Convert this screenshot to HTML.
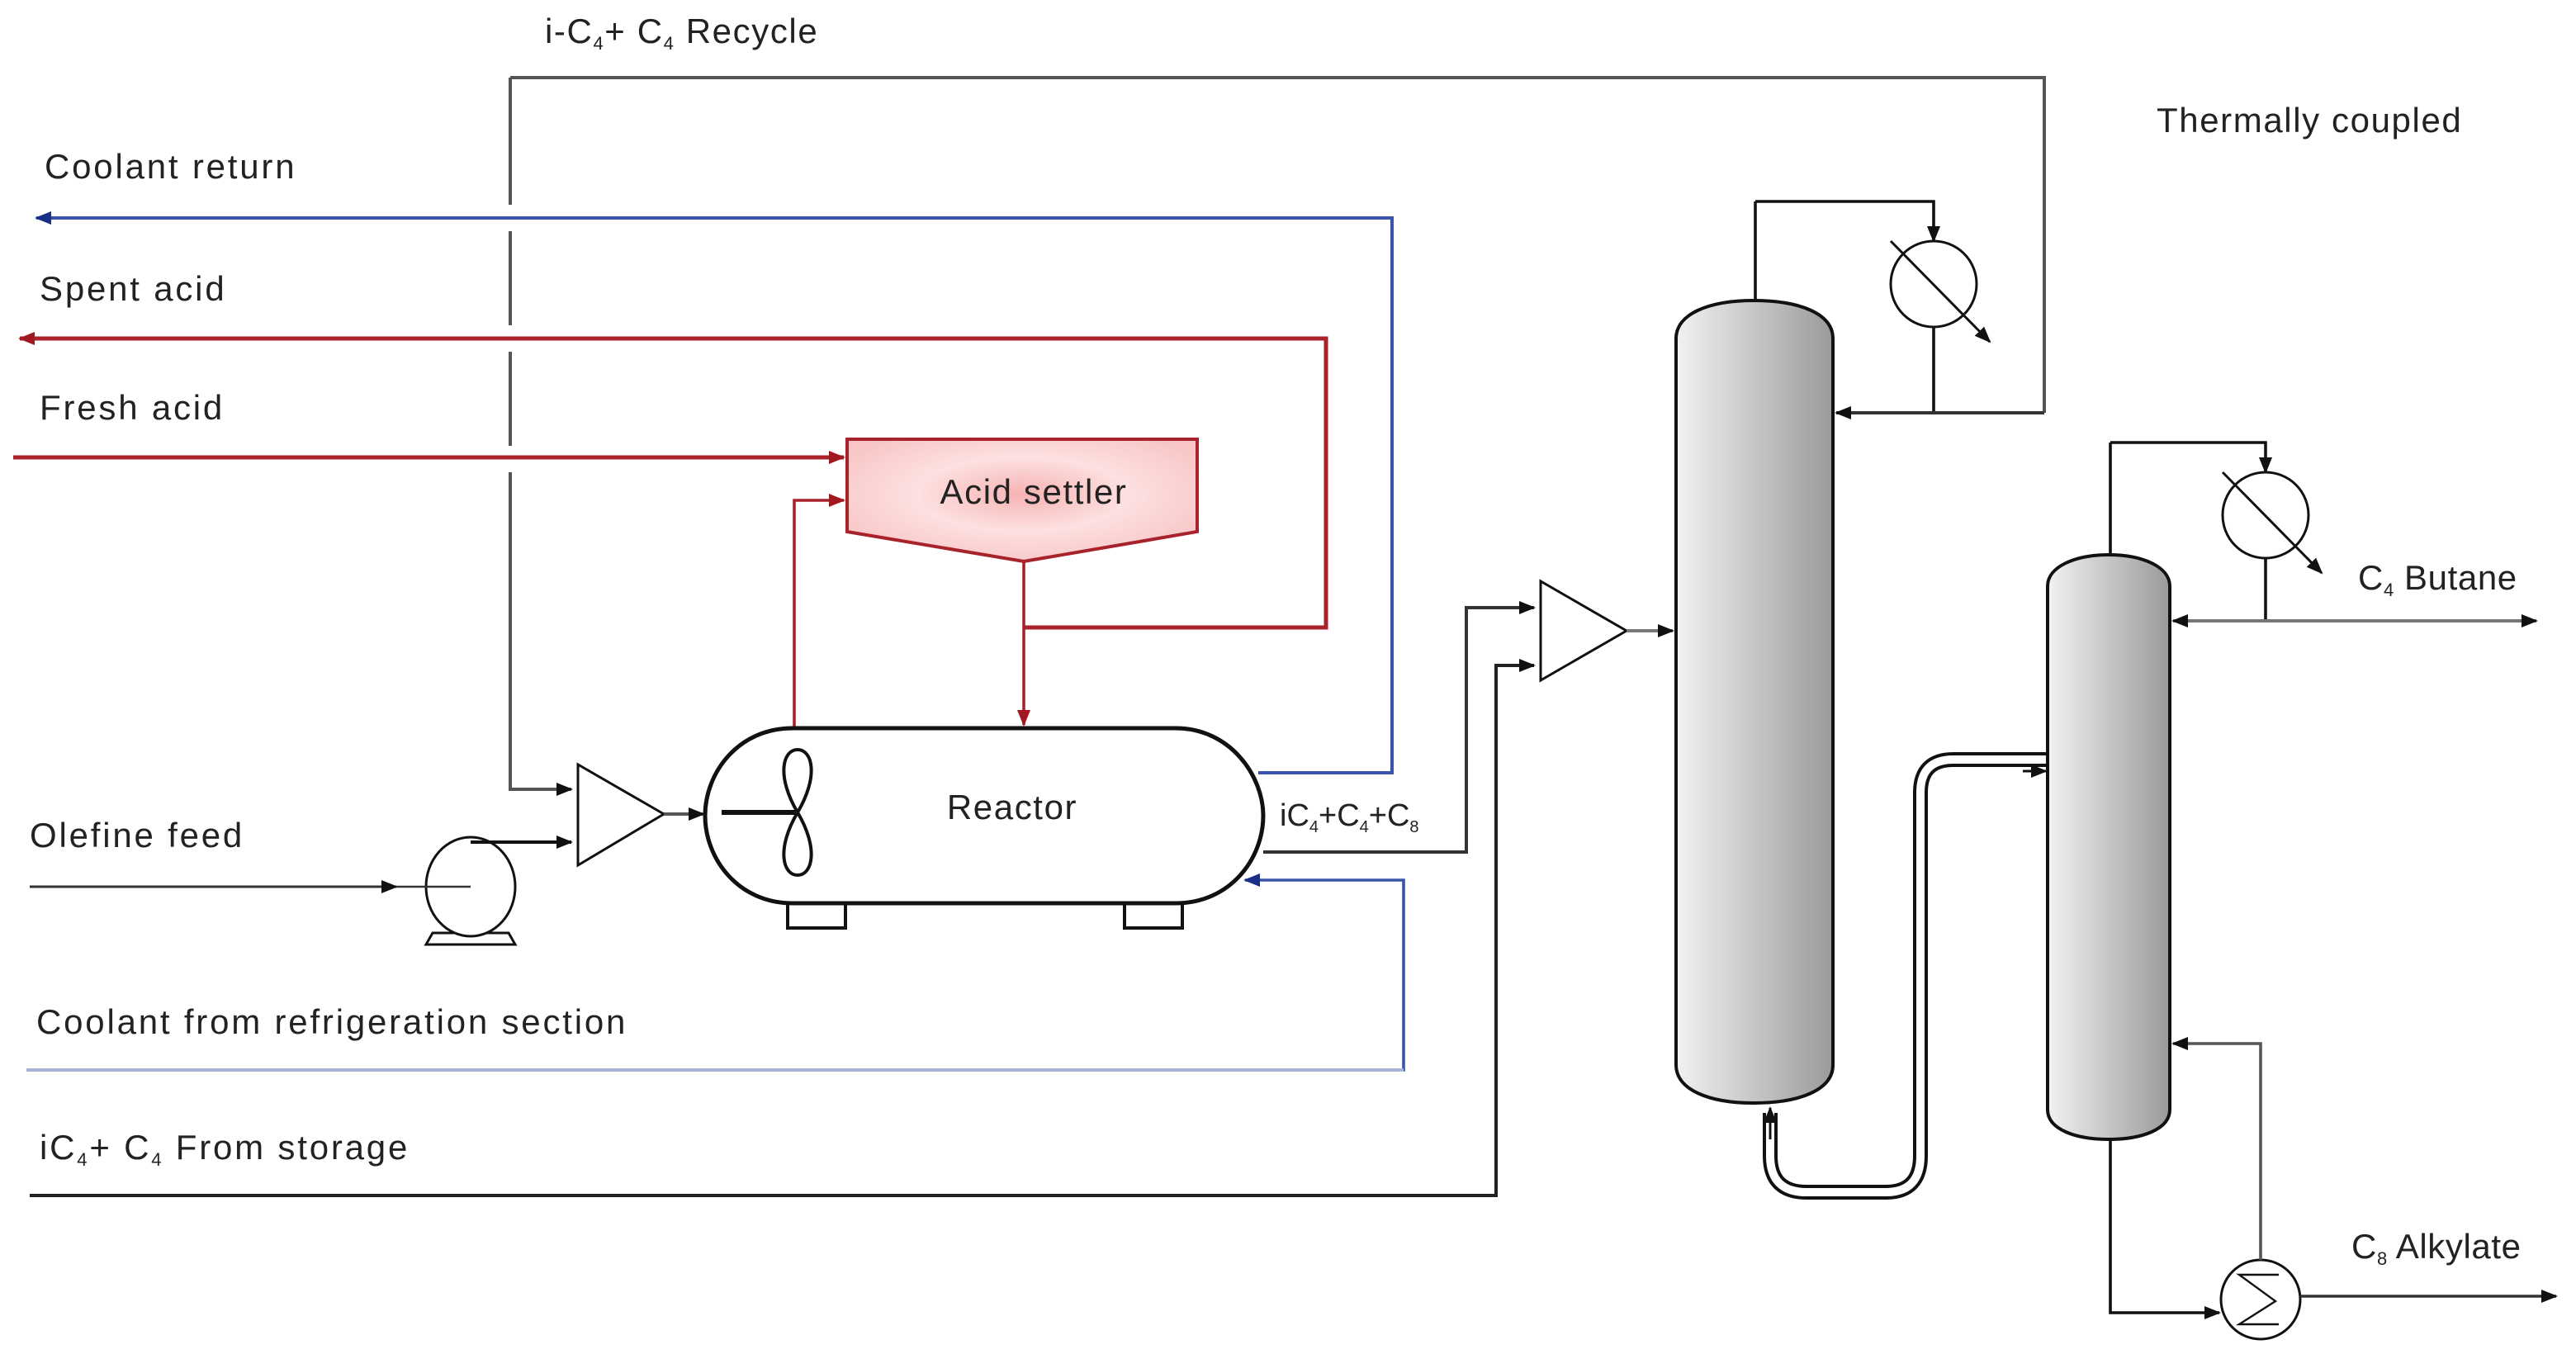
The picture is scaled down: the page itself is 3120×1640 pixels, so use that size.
<!DOCTYPE html>
<html><head><meta charset="utf-8"><style>
html,body{margin:0;padding:0;background:#fff;}
svg{display:block;}
text{font-family:"Liberation Sans",sans-serif;font-size:21px;letter-spacing:1.4px;fill:#222;}
</style></head><body>
<svg width="3120" height="1640" viewBox="0 0 1560 820" xmlns="http://www.w3.org/2000/svg">
<defs>
<linearGradient id="col" x1="0" x2="1" y1="0" y2="0"><stop offset="0" stop-color="#f2f2f2"/><stop offset="1" stop-color="#9a9a9a"/></linearGradient>
<radialGradient id="pink" cx="0.5" cy="0.45" r="0.6"><stop offset="0" stop-color="#f6b3b3"/><stop offset="0.5" stop-color="#fde0e0"/><stop offset="1" stop-color="#f8c6c6"/></radialGradient>
<marker id="ak" markerWidth="10" markerHeight="10" refX="9" refY="5" orient="auto" markerUnits="userSpaceOnUse"><path d="M0,1 L10,5 L0,9 z" fill="#111"/></marker>
<marker id="ar" markerWidth="10" markerHeight="10" refX="9" refY="5" orient="auto" markerUnits="userSpaceOnUse"><path d="M0,1 L10,5 L0,9 z" fill="#a01820"/></marker>
<marker id="ab" markerWidth="10" markerHeight="10" refX="9" refY="5" orient="auto" markerUnits="userSpaceOnUse"><path d="M0,1 L10,5 L0,9 z" fill="#1a2f8a"/></marker>
</defs>

<text x="330" y="26" style="letter-spacing:0.8px">i-C<tspan font-size="11" dy="4">4</tspan><tspan dy="-4">+ C</tspan><tspan font-size="11" dy="4">4</tspan><tspan dy="-4"> Recycle</tspan></text>
<text x="1306" y="80" style="letter-spacing:0.8px">Thermally coupled</text>
<text x="27" y="108">Coolant return</text>
<text x="24" y="182">Spent acid</text>
<text x="24" y="254">Fresh acid</text>
<text x="18" y="513">Olefine feed</text>
<text x="22" y="626">Coolant from refrigeration section</text>
<text x="24" y="702">iC<tspan font-size="11" dy="4">4</tspan><tspan dy="-4">+ C</tspan><tspan font-size="11" dy="4">4</tspan><tspan dy="-4"> From storage</tspan></text>
<text x="775" y="500" style="letter-spacing:0;font-size:19px">iC<tspan font-size="10" dy="4">4</tspan><tspan dy="-4">+C</tspan><tspan font-size="10" dy="4">4</tspan><tspan dy="-4">+C</tspan><tspan font-size="10" dy="4">8</tspan></text>
<text x="1428" y="357" style="letter-spacing:0.3px">C<tspan font-size="11" dy="4">4</tspan><tspan dy="-4"> Butane</tspan></text>
<text x="1424" y="762" style="letter-spacing:0.3px">C<tspan font-size="11" dy="4">8</tspan><tspan dy="-4"> Alkylate</tspan></text>

<g fill="none" stroke="#555" stroke-width="2">
<path d="M1238,250 V47 H309"/>
<path d="M309,47 V478 H346" marker-end="url(#ak)"/>
</g>
<g stroke="#fff" stroke-width="6">
<line x1="309" y1="124" x2="309" y2="140"/>
<line x1="309" y1="197" x2="309" y2="213"/>
<line x1="309" y1="270" x2="309" y2="286"/>
</g>

<path d="M762,468 H843 V132 H22" fill="none" stroke="#3a55a8" stroke-width="2" marker-end="url(#ab)"/>
<path d="M620,380 H803 V205 H12" fill="none" stroke="#a8222c" stroke-width="2.5" marker-end="url(#ar)"/>
<path d="M8,277 H511" fill="none" stroke="#a8222c" stroke-width="2.5" marker-end="url(#ar)"/>
<path d="M481,441 V303 H511" fill="none" stroke="#a8222c" stroke-width="1.8" marker-end="url(#ar)"/>
<path d="M513,266 H725 V322 L620,340 L513,322 Z" fill="url(#pink)" stroke="#a8222c" stroke-width="2"/>
<text x="626" y="305" text-anchor="middle" style="letter-spacing:0.8px">Acid settler</text>
<path d="M620,340 V439" fill="none" stroke="#a8222c" stroke-width="1.8" marker-end="url(#ar)"/>

<path d="M477,547 h35 v15 h-35 z M681,547 h35 v15 h-35 z" fill="#fff" stroke="#111" stroke-width="2"/>
<path d="M480,441 H712 C745,441 765,470 765,494 C765,520 745,547 712,547 H480 C447,547 427,520 427,494 C427,468 447,441 480,441 Z" fill="#fff" stroke="#111" stroke-width="2.5"/>
<text x="613" y="496" text-anchor="middle" style="letter-spacing:0.8px">Reactor</text>
<path d="M437,492 H483" stroke="#111" stroke-width="3"/>
<path d="M483,492 C470,470 474,454 483,454 C492,454 496,470 483,492 C470,514 474,530 483,530 C492,530 496,514 483,492 Z" fill="#fff" stroke="#111" stroke-width="2"/>

<path d="M350,463 L350,524 L402,493 Z" fill="#fff" stroke="#111" stroke-width="1.5"/>
<path d="M402,493 H426" stroke="#555" stroke-width="2" marker-end="url(#ak)"/>
<path d="M262,565 L308,565 L312,572 L258,572 Z" fill="#fff" stroke="#111" stroke-width="1.5"/>
<ellipse cx="285" cy="537" rx="27" ry="30" fill="#fff" stroke="#111" stroke-width="1.5"/>
<path d="M18,537 H240" stroke="#333" stroke-width="1.5" marker-end="url(#ak)"/>
<path d="M240,537 H285" stroke="#333" stroke-width="1.2"/>
<path d="M285,510 H346" stroke="#111" stroke-width="2" marker-end="url(#ak)"/>

<path d="M765,516 H888 V368 H929" fill="none" stroke="#333" stroke-width="2" marker-end="url(#ak)"/>
<path d="M16,648 H850 V533 H754" fill="none" stroke="#3a55a8" stroke-width="1.8" marker-end="url(#ab)"/>
<path d="M16,648 H850" stroke="#a9b6da" stroke-width="2"/>
<path d="M18,724 H906 V403 H929" fill="none" stroke="#222" stroke-width="2" marker-end="url(#ak)"/>

<path d="M933,352 L933,412 L985,382 Z" fill="#fff" stroke="#111" stroke-width="1.5"/>
<path d="M985,382 H1013" stroke="#777" stroke-width="2" marker-end="url(#ak)"/>

<path d="M1063,122 H1171 V146" fill="none" stroke="#111" stroke-width="1.8" marker-end="url(#ak)"/>
<path d="M1063,122 V182" stroke="#111" stroke-width="1.8"/>
<path d="M1015,205 C1015,190 1035,182 1062,182 C1090,182 1110,190 1110,205 V645 C1110,660 1090,668 1062,668 C1035,668 1015,660 1015,645 Z" fill="url(#col)" stroke="#111" stroke-width="2"/>
<circle cx="1171" cy="172" r="26" fill="#fff" stroke="#111" stroke-width="1.5"/>
<path d="M1145,146 L1205,207" stroke="#111" stroke-width="1.5" marker-end="url(#ak)"/>
<path d="M1171,198 V250" stroke="#111" stroke-width="1.8"/>
<path d="M1238,250 H1112" stroke="#333" stroke-width="2" marker-end="url(#ak)"/>

<path d="M1072,674 V700 Q1072,722 1094,722 H1142 Q1163,722 1163,700 V480 Q1163,460 1183,460 H1240" fill="none" stroke="#111" stroke-width="9"/>
<path d="M1072,674 V700 Q1072,722 1094,722 H1142 Q1163,722 1163,700 V480 Q1163,460 1183,460 H1240" fill="none" stroke="#fff" stroke-width="5"/>
<path d="M1072,690 V671" stroke="#111" stroke-width="1.5" marker-end="url(#ak)"/>
<path d="M1225,467 H1239" stroke="#111" stroke-width="1.5" marker-end="url(#ak)"/>

<path d="M1278,268 H1372 V286" fill="none" stroke="#111" stroke-width="1.8" marker-end="url(#ak)"/>
<path d="M1278,268 V336" stroke="#111" stroke-width="1.8"/>
<path d="M1240,355 C1240,343 1257,336 1277,336 C1297,336 1314,343 1314,355 V672 C1314,684 1297,690 1277,690 C1257,690 1240,684 1240,672 Z" fill="url(#col)" stroke="#111" stroke-width="2"/>
<circle cx="1372" cy="312" r="26" fill="#fff" stroke="#111" stroke-width="1.5"/>
<path d="M1346,286 L1406,347" stroke="#111" stroke-width="1.5" marker-end="url(#ak)"/>
<path d="M1372,338 V376" stroke="#111" stroke-width="1.8"/>
<path d="M1372,376 H1316" stroke="#777" stroke-width="2" marker-end="url(#ak)"/>
<path d="M1372,376 H1536" stroke="#777" stroke-width="2" marker-end="url(#ak)"/>

<path d="M1278,690 V795 H1344" fill="none" stroke="#111" stroke-width="1.8" marker-end="url(#ak)"/>
<circle cx="1369" cy="787" r="24" fill="#fff" stroke="#111" stroke-width="1.5"/>
<path d="M1380,772 H1356 L1378,788 L1356,802 H1380" fill="none" stroke="#111" stroke-width="1.2"/>
<path d="M1369,763 V632 H1316" fill="none" stroke="#555" stroke-width="1.8" marker-end="url(#ak)"/>
<path d="M1393,785 H1548" stroke="#333" stroke-width="1.8" marker-end="url(#ak)"/>
</svg>
</body></html>
